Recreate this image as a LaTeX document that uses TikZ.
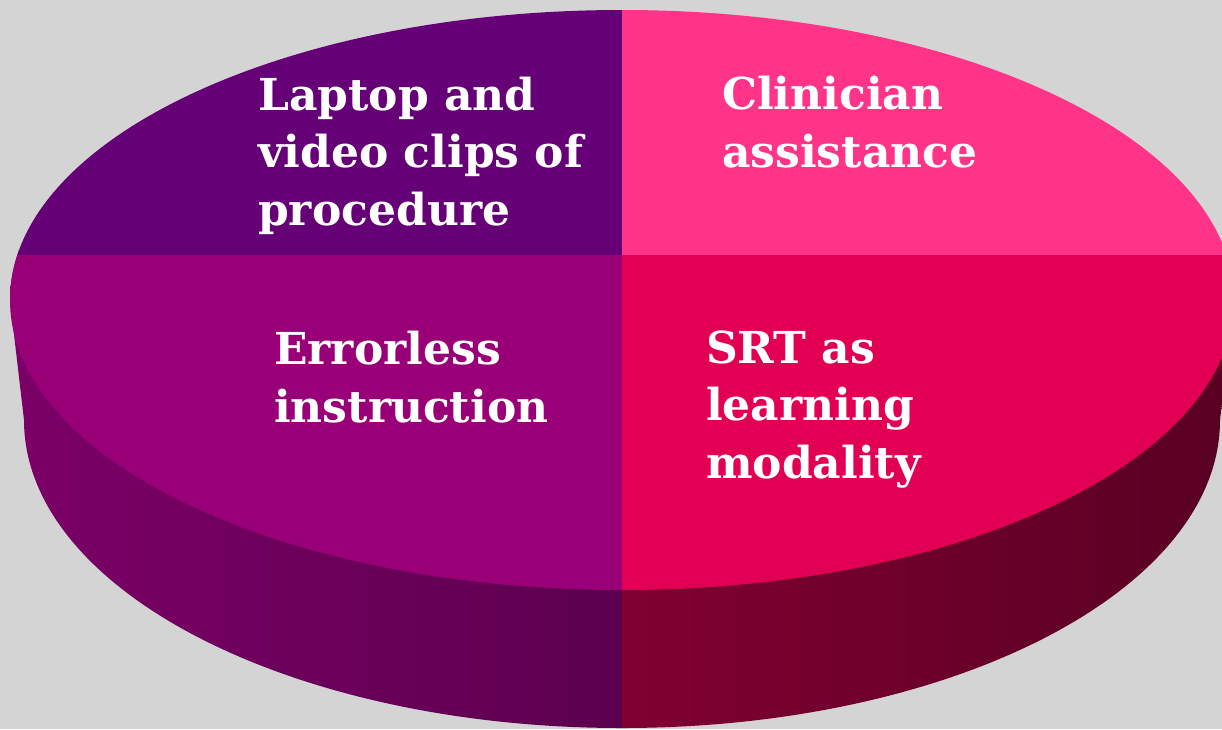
\documentclass[tikz,border=0pt]{standalone}
\usepackage{fontspec}
\setmainfont{DejaVu Serif}
\definecolor{bg}{HTML}{D4D4D4}
\definecolor{qtl}{HTML}{660077}
\definecolor{qtr}{HTML}{FF3388}
\definecolor{qbl}{HTML}{990077}
\definecolor{qbr}{HTML}{E20055}
\definecolor{wallLa}{HTML}{7C0068}
\definecolor{wallLb}{HTML}{5C004E}
\definecolor{wallRa}{HTML}{800032}
\definecolor{wallRb}{HTML}{580022}
\tikzset{
  lbl/.style={text=white, font=\fontsize{44}{57.5}\selectfont\bfseries, align=left, inner sep=0pt},
}
\begin{document}
\begin{tikzpicture}[x=1pt,y=-1pt]
\useasboundingbox (0,0) rectangle (1222,729);
\clip (0,0) rectangle (1222,729);
\fill[bg] (0,0) rectangle (1222,729);
% side wall
\begin{scope}
\clip (10,300) arc[start angle=180,end angle=0,x radius=612pt,y radius=290pt]
  -- (1220,420) arc[start angle=0,end angle=-180,x radius=598pt,y radius=308pt] -- cycle;
\shade[left color=wallLa, right color=wallLb] (0,250) rectangle (622,729);
\shade[left color=wallRa, right color=wallRb] (622,250) rectangle (1240,729);
\end{scope}
% top face
\begin{scope}
\clip (622,300) ellipse[x radius=612pt,y radius=290pt];
\fill[qtl] (0,0) rectangle (622,255);
\fill[qtr] (622,0) rectangle (1240,255);
\fill[qbl] (0,255) rectangle (622,600);
\fill[qbr] (622,255) rectangle (1240,600);
\end{scope}
% labels (anchored at the baseline of their last line)
\node[lbl, anchor=base west] (t1) at (258,225) {Laptop and\\video clips of\\procedure};
\node[lbl, anchor=base west] (t2) at (722,167) {Clinician\\assistance};
\node[lbl, anchor=base west] (t3) at (274,422) {Errorless\\instruction};
\node[lbl, anchor=base west] (t4) at (706,478) {SRT as\\learning\\modality};
\end{tikzpicture}
\end{document}
